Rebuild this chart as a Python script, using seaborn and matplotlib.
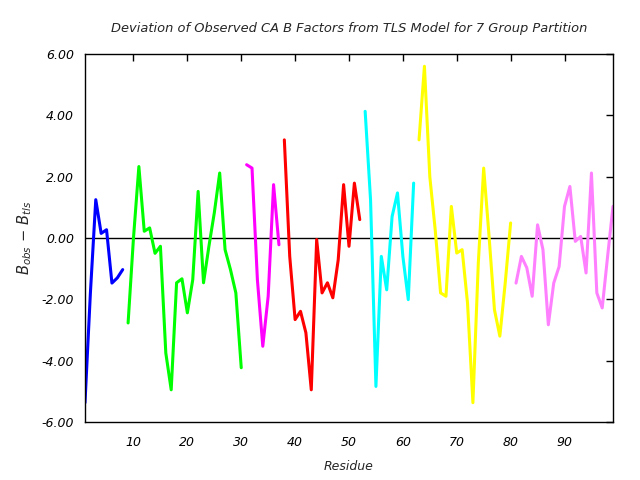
import pandas as pd
import seaborn as sns
import matplotlib.pyplot as plt

# Deviation values per TLS group (residues 1-99)
grp1 = [-5.37, -1.8, 1.25, 0.15, 0.27, -1.47, -1.3, -1.03]
grp2 = [-2.77, 0.0, 2.33, 0.22, 0.33, -0.5, -0.27, -3.75, -4.95, -1.46, -1.33,
        -2.44, -1.36, 1.52, -1.46, -0.27, 0.82, 2.12, -0.38, -1.03, -1.79, -4.23]
grp3 = [2.39, 2.28, -1.36, -3.53, -1.9, 1.74, -0.22]
grp4 = [3.2, -0.6, -2.66, -2.39, -3.09, -4.95, -0.05, -1.79, -1.46, -1.95, -0.71,
        1.74, -0.27, 1.79, 0.6]
grp5 = [4.13, 1.25, -4.84, -0.6, -1.69, 0.7, 1.47, -0.6, -2.01, 1.79]
grp6 = [3.2, 5.6, 2.0, 0.27, -1.79, -1.9, 1.03, -0.49, -0.38, -2.12, -5.37,
        -0.82, 2.28, 0.05, -2.34, -3.2, -1.46, 0.49]
grp7 = [-1.47, -0.6, -0.97, -1.9, 0.43, -0.38, -2.83, -1.47, -0.93, 1.03, 1.68,
        -0.11, 0.05, -1.14, 2.12, -1.79, -2.28, -0.6, 1.03]

groups = [grp1, grp2, grp3, grp4, grp5, grp6, grp7]
colors = ['#0000ff', '#00ff00', '#ff00ff', '#ff0000', '#00ffff', '#ffff00', '#ff80ff']
yticks = [-6, -4, -2, 0, 2, 4, 6]
xticks = [10, 20, 30, 40, 50, 60, 70, 80, 90]

rows = []
res = 1
for g, vals in enumerate(groups):
    for v in vals:
        rows.append({'residue': res, 'dev': v, 'group': g})
        res += 1
df = pd.DataFrame(rows)

sns.set_style('white')
plt.rcParams['font.family'] = ['DejaVu Sans']
plt.rcParams['mathtext.fontset'] = 'dejavusans'

fig = plt.figure(figsize=(6.4, 4.8), dpi=100)
ax = fig.add_axes([0.1328, 0.1208, 0.825, 0.7667])

ax.axhline(0, color='black', linewidth=1.0, zorder=1)
sns.lineplot(data=df, x='residue', y='dev', hue='group', palette=colors,
             legend=False, linewidth=2.2, ax=ax, zorder=2)

ax.set_xlim(1, 99)
ax.set_ylim(-6, 6)
ax.set_xticks(xticks)
ax.set_xticklabels([str(t) for t in xticks], fontstyle='italic', fontsize=9)
ax.set_yticks(yticks)
ax.set_yticklabels(['%.2f' % t for t in yticks], fontstyle='italic', fontsize=9)
ax.tick_params(axis='x', direction='in', top=True, length=5, width=1,
               colors='black', pad=10)
ax.tick_params(axis='y', direction='in', right=True, length=5, width=1,
               colors='black', pad=8)
for s in ax.spines.values():
    s.set_color('black')
    s.set_linewidth(1.0)

ax.set_xlabel('Residue', fontstyle='italic', fontsize=9, labelpad=8)
ax.set_ylabel(r'$B_{obs}$ $-$ $B_{tls}$', fontsize=10.5, labelpad=5)
ax.set_title('Deviation of Observed CA B Factors from TLS Model for 7 Group Partition',
             fontstyle='italic', fontsize=9.4, pad=16)

plt.savefig('out.png', dpi=100)
